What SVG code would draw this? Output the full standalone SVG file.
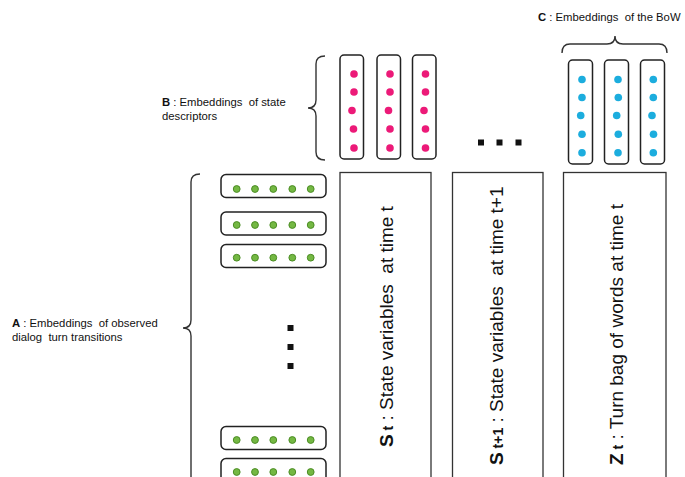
<svg xmlns="http://www.w3.org/2000/svg" width="685" height="477" viewBox="0 0 685 477">
<style>
.lbl{font-family:"Liberation Sans",Arial,sans-serif;font-size:11.3px;fill:#111;white-space:pre}
.big{font-family:"Liberation Sans",Arial,sans-serif;font-size:19px;fill:#111;white-space:pre}
.b{font-weight:bold}
.sub{font-weight:bold;font-size:14px}
.box{fill:#fff;stroke:#222;stroke-width:1.5}
.col{fill:#fff;stroke:#333;stroke-width:1.3}
.brace{fill:none;stroke:#333;stroke-width:1.4}
.pk{fill:#ec1a78}
.bl{fill:#1cadde}
.gr{fill:#74b843;stroke:#4c8d25;stroke-width:1}
.sq{fill:#111}
</style>
<rect width="685" height="477" fill="#fff"/>

<g id="connectors">
  <path class="brace" d="M325,56 Q316,56 316,64 L316,100 Q316,108 308,108 Q316,108 316,116 L316,152 Q316,160 325,160"/>
  <path class="brace" d="M200,174 Q191,174 191,182 L191,320 Q191,328 183,328 Q191,328 191,336 L191,480"/>
  <path class="brace" d="M562,53 Q562,44 570,44 L607,44 Q615,44 615,36 Q615,44 623,44 L659,44 Q667,44 667,53"/>
</g>

<g id="labelC"><text class="lbl" x="538" y="21"><tspan class="b">C</tspan> : Embeddings  of the BoW</text></g>
<g id="labelB"><text class="lbl" x="162" y="105.5"><tspan class="b">B</tspan> : Embeddings  of state</text><text class="lbl" x="162" y="119.5">descriptors</text></g>
<g id="labelA"><text class="lbl" x="12" y="326.5"><tspan class="b">A</tspan> : Embeddings  of observed</text><text class="lbl" x="12" y="340.5">dialog  turn transitions</text></g>

<g id="stateEmbeddings">
  <rect class="box" x="340" y="55" width="23.5" height="104" rx="4"/>
  <rect class="box" x="377" y="55" width="23.5" height="104" rx="4"/>
  <rect class="box" x="412.5" y="55" width="23.5" height="104" rx="4"/>
  <g class="pk">
    <circle cx="354" cy="74" r="3.8"/><circle cx="354" cy="92" r="3.8"/><circle cx="352" cy="110.5" r="3.8"/><circle cx="353.5" cy="129" r="3.8"/><circle cx="354" cy="148" r="3.8"/>
    <circle cx="390" cy="74" r="3.8"/><circle cx="390" cy="92" r="3.8"/><circle cx="388.5" cy="110.5" r="3.8"/><circle cx="390" cy="129" r="3.8"/><circle cx="390" cy="148" r="3.8"/>
    <circle cx="425.5" cy="74" r="3.8"/><circle cx="425.5" cy="92" r="3.8"/><circle cx="424" cy="110.5" r="3.8"/><circle cx="425.5" cy="129" r="3.8"/><circle cx="425.5" cy="148" r="3.8"/>
  </g>
</g>

<g id="bowEmbeddings">
  <rect class="box" x="568.5" y="60" width="24" height="104" rx="4"/>
  <rect class="box" x="604.5" y="60" width="24" height="104" rx="4"/>
  <rect class="box" x="640.5" y="60" width="24" height="104" rx="4"/>
  <g class="bl">
    <circle cx="582" cy="79.5" r="3.8"/><circle cx="582" cy="97.5" r="3.8"/><circle cx="580.7" cy="115.5" r="3.8"/><circle cx="582" cy="134.3" r="3.8"/><circle cx="582" cy="152.7" r="3.8"/>
    <circle cx="618" cy="79.5" r="3.8"/><circle cx="618.3" cy="97.5" r="3.8"/><circle cx="616.7" cy="115.5" r="3.8"/><circle cx="618.3" cy="134.3" r="3.8"/><circle cx="618" cy="152.7" r="3.8"/>
    <circle cx="653.3" cy="79.5" r="3.8"/><circle cx="653.3" cy="97.5" r="3.8"/><circle cx="652" cy="115.5" r="3.8"/><circle cx="653.5" cy="134.3" r="3.8"/><circle cx="653.3" cy="152.7" r="3.8"/>
  </g>
</g>

<g id="hdots"><rect class="sq" x="478" y="139.5" width="6" height="6"/><rect class="sq" x="496.5" y="139.5" width="6" height="6"/><rect class="sq" x="515.5" y="139.5" width="6" height="6"/></g>

<g id="transitionEmbeddings">
  <rect class="box" x="221" y="174.5" width="105" height="23" rx="5"/>
  <rect class="box" x="221" y="212" width="105" height="23" rx="5"/>
  <rect class="box" x="221" y="244.5" width="105" height="23" rx="5"/>
  <rect class="box" x="221" y="426.5" width="105" height="23" rx="5"/>
  <rect class="box" x="221" y="458.5" width="105" height="23" rx="5"/>
  <g class="gr">
    <circle cx="236.7" cy="189" r="3.4"/><circle cx="255" cy="189" r="3.4"/><circle cx="273.3" cy="189" r="3.4"/><circle cx="292.3" cy="189" r="3.4"/><circle cx="310.7" cy="189" r="3.4"/>
    <circle cx="236.7" cy="225" r="3.4"/><circle cx="255" cy="225" r="3.4"/><circle cx="273.3" cy="225" r="3.4"/><circle cx="292.3" cy="225" r="3.4"/><circle cx="310.7" cy="225" r="3.4"/>
    <circle cx="236.7" cy="257.7" r="3.4"/><circle cx="255" cy="257.7" r="3.4"/><circle cx="273.3" cy="257.7" r="3.4"/><circle cx="292.3" cy="257.7" r="3.4"/><circle cx="310.7" cy="257.7" r="3.4"/>
    <circle cx="236.7" cy="440" r="3.4"/><circle cx="255" cy="440" r="3.4"/><circle cx="273.3" cy="440" r="3.4"/><circle cx="292.3" cy="440" r="3.4"/><circle cx="310.7" cy="440" r="3.4"/>
    <circle cx="236.7" cy="472" r="3.4"/><circle cx="255" cy="472" r="3.4"/><circle cx="273.3" cy="472" r="3.4"/><circle cx="292.3" cy="472" r="3.4"/><circle cx="310.7" cy="472" r="3.4"/>
  </g>
</g>

<g id="vdots"><rect class="sq" x="287.5" y="325" width="6" height="6"/><rect class="sq" x="287.5" y="344" width="6" height="6"/><rect class="sq" x="287.5" y="363" width="6" height="6"/></g>

<g id="St">
  <rect class="col" x="340" y="172.5" width="91" height="320"/>
  <text class="big" transform="translate(393,447) rotate(-90)"><tspan class="b">S</tspan><tspan class="sub"> t</tspan> : State variables  at time t</text>
</g>
<g id="St1">
  <rect class="col" x="452.5" y="172.5" width="90.5" height="320"/>
  <text class="big" transform="translate(503,465) rotate(-90)"><tspan class="b">S</tspan><tspan class="sub"> t+1</tspan> : State variables  at time t+1</text>
</g>
<g id="Zt">
  <rect class="col" x="563.5" y="172.5" width="102.5" height="320"/>
  <text class="big" transform="translate(623,465) rotate(-90)"><tspan class="b">Z</tspan><tspan class="sub"> t</tspan> : Turn bag of words at time t</text>
</g>
</svg>
